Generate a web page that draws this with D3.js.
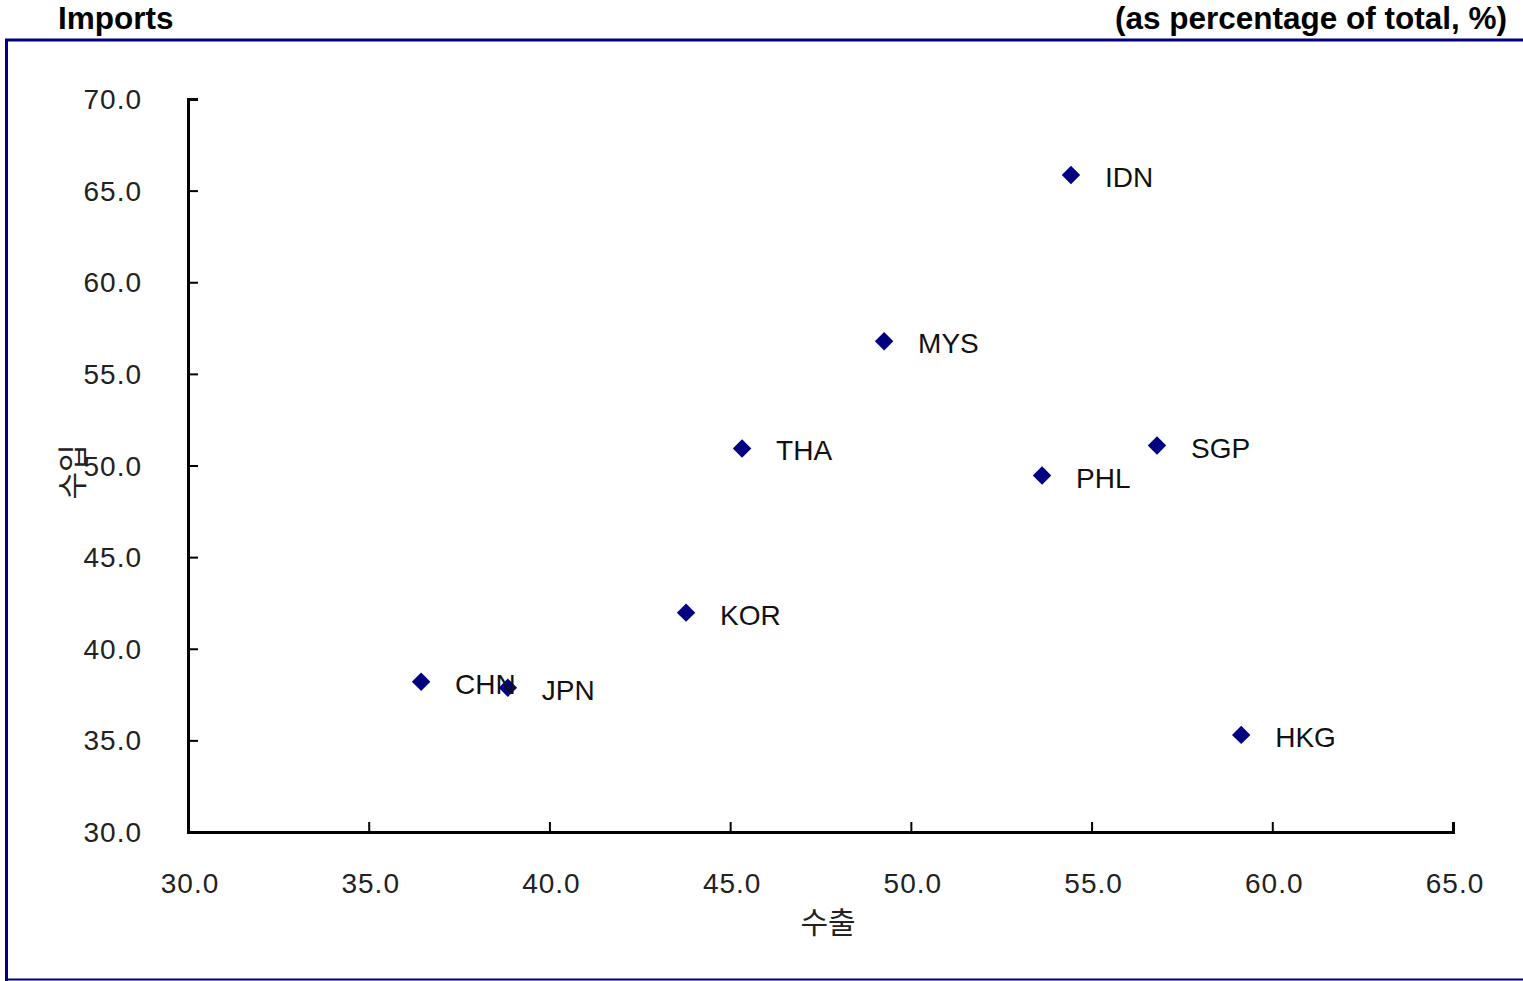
<!DOCTYPE html>
<html><head><meta charset="utf-8">
<script src="https://cdn.jsdelivr.net/npm/d3@7"></script>
<style>body{margin:0;background:#fff;}svg{display:block;}</style>
</head><body>
<svg id="c" width="1523" height="981"></svg>
<script>
const countries = ["IDN","MYS","THA","SGP","PHL","KOR","CHN","JPN","HKG"];
const exportsShare = [54.43,49.26,45.33,56.81,53.63,43.78,36.45,38.85,59.14];
const importsShare = [65.85,56.78,50.93,51.09,49.45,41.97,38.20,37.87,35.30];
const xTicks = [30,35,40,45,50,55,60,65];
const yTicks = [30,35,40,45,50,55,60,65,70];

const svg = d3.select("#c");
const font = "'Liberation Sans','Noto Sans CJK KR',sans-serif";
const kfont = "'Noto Sans CJK KR','Liberation Sans',sans-serif";

// frame
svg.append("line").attr("x1",5).attr("x2",1523).attr("y1",40).attr("y2",40).attr("stroke","#000080").attr("stroke-width",3);
svg.append("line").attr("x1",6.5).attr("x2",6.5).attr("y1",39).attr("y2",981).attr("stroke","#000080").attr("stroke-width",3);
svg.append("line").attr("x1",5).attr("x2",1523).attr("y1",979.5).attr("y2",979.5).attr("stroke","#000080").attr("stroke-width",2);

svg.append("text").attr("x",58).attr("y",29).attr("font-family",font).attr("font-weight","bold").attr("font-size",31.5).text("Imports");
svg.append("text").attr("x",1507).attr("y",29).attr("text-anchor","end").attr("font-family",font).attr("font-weight","bold").attr("font-size",31.5).text("(as percentage of total, %)");

const x = d3.scaleLinear().domain([30,65]).range([188,1453]);
const y = d3.scaleLinear().domain([30,70]).range([832,99]);

const xAxis = svg.append("g").attr("transform","translate(0,832)")
  .call(d3.axisTop(x).tickValues(xTicks).tickSize(10).tickFormat(""));
const yAxis = svg.append("g").attr("transform","translate(188,0)")
  .call(d3.axisRight(y).tickValues(yTicks).tickSize(10).tickFormat(""));
[xAxis,yAxis].forEach(g=>{
  g.select(".domain").attr("stroke","#000").attr("stroke-width",3);
  g.selectAll(".tick line").attr("stroke","#000").attr("stroke-width",2);
});

svg.append("g").selectAll("text").data(xTicks).join("text")
  .attr("x",d=>x(d)+2).attr("y",893).attr("text-anchor","middle")
  .attr("font-family",font).attr("font-size",28).attr("letter-spacing",1).attr("fill","#222").text(d=>d.toFixed(1));
svg.append("g").selectAll("text").data(yTicks).join("text")
  .attr("x",142).attr("y",d=>y(d)+10).attr("text-anchor","end")
  .attr("font-family",font).attr("font-size",28).attr("letter-spacing",1).attr("fill","#222").text(d=>d.toFixed(1));

svg.append("text").attr("x",828).attr("y",933).attr("text-anchor","middle")
  .attr("font-family",kfont).attr("font-size",30).attr("fill","#222").text("수출");
svg.append("text").attr("transform","translate(83,472) rotate(-90)").attr("text-anchor","middle")
  .attr("font-family",kfont).attr("font-size",30).attr("fill","#222").text("수입");

const data = countries.map((c,i)=>({c, ex:exportsShare[i], im:importsShare[i]}));
const sym = d3.symbol().type(d3.symbolSquare).size(170);
svg.append("g").selectAll("path").data(data).join("path")
  .attr("d",sym).attr("fill","#000080")
  .attr("transform",d=>`translate(${x(d.ex)},${y(d.im)}) rotate(45)`);
svg.append("g").selectAll("text").data(data).join("text")
  .attr("x",d=>x(d.ex)+34).attr("y",d=>y(d.im)+12)
  .attr("font-family",font).attr("font-size",28).attr("fill","#111").text(d=>d.c);
</script>
</body></html>
